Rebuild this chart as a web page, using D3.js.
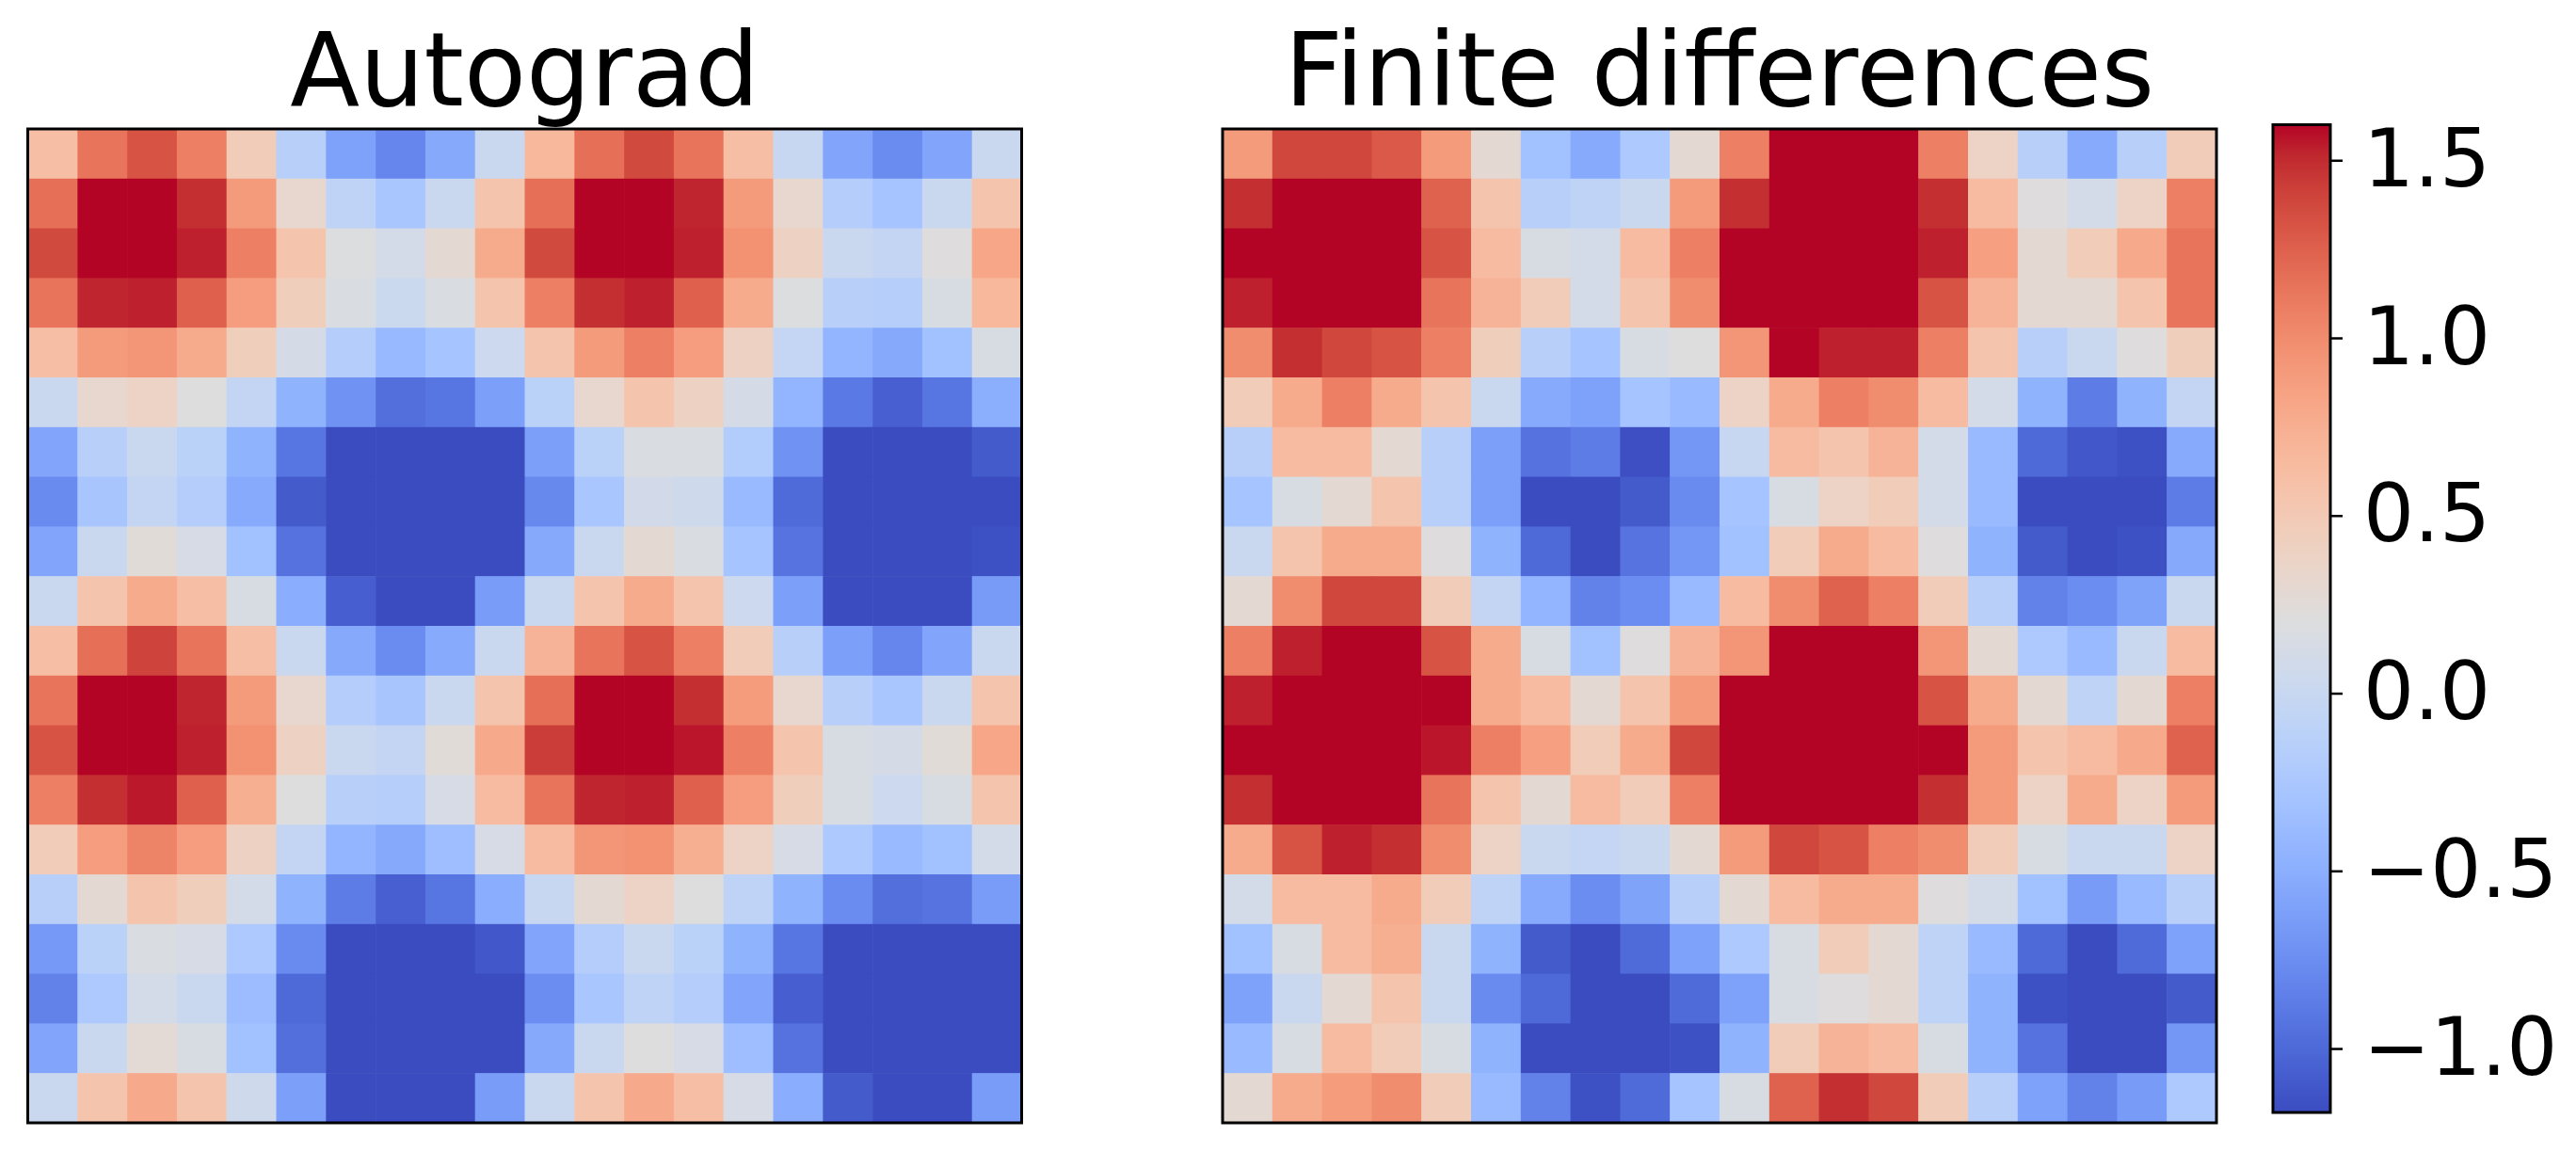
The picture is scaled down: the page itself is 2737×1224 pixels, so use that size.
<!DOCTYPE html>
<html>
<head>
<meta charset="utf-8">
<script src="https://cdn.jsdelivr.net/npm/d3@7"></script>
<style>
  body { margin: 0; background: #fff; }
  text { font-family: "DejaVu Sans", sans-serif; fill: #000; }
</style>
</head>
<body>
<div id="chart"></div>
<script>
// panel titles
var panelTitles = ["Autograd", "Finite differences"];

// gradient (row 0 = top)
var autograd = [
  [0.61, 1.14, 1.32, 1.07, 0.47, -0.14, -0.60, -0.80, -0.54, 0.02, 0.67, 1.17, 1.37, 1.14, 0.61, 0.00, -0.57, -0.76, -0.57, 0.02],
  [1.17, 1.75, 1.75, 1.48, 0.90, 0.32, -0.08, -0.26, 0.02, 0.56, 1.17, 1.75, 1.75, 1.52, 0.90, 0.32, -0.17, -0.29, 0.02, 0.56],
  [1.37, 1.80, 1.80, 1.53, 1.07, 0.56, 0.20, 0.10, 0.29, 0.78, 1.37, 1.80, 1.80, 1.53, 0.96, 0.40, 0.02, -0.04, 0.22, 0.82],
  [1.14, 1.52, 1.53, 1.25, 0.88, 0.45, 0.17, 0.03, 0.17, 0.56, 1.07, 1.48, 1.53, 1.25, 0.78, 0.20, -0.14, -0.16, 0.15, 0.67],
  [0.61, 0.90, 0.93, 0.78, 0.45, 0.11, -0.17, -0.40, -0.29, 0.04, 0.56, 0.90, 1.07, 0.88, 0.40, -0.03, -0.44, -0.54, -0.32, 0.15],
  [0.02, 0.32, 0.38, 0.21, -0.04, -0.46, -0.72, -0.96, -0.91, -0.62, -0.12, 0.32, 0.56, 0.40, 0.11, -0.44, -0.89, -1.06, -0.91, -0.50],
  [-0.57, -0.14, 0.02, -0.12, -0.46, -0.91, -1.30, -1.30, -1.30, -1.30, -0.62, -0.12, 0.17, 0.17, -0.19, -0.72, -1.30, -1.30, -1.30, -1.09],
  [-0.77, -0.27, -0.04, -0.17, -0.53, -1.09, -1.35, -1.35, -1.35, -1.30, -0.79, -0.26, 0.09, 0.06, -0.39, -0.99, -1.35, -1.35, -1.35, -1.30],
  [-0.57, 0.02, 0.25, 0.13, -0.32, -0.94, -1.35, -1.35, -1.35, -1.30, -0.54, 0.02, 0.29, 0.17, -0.29, -0.93, -1.30, -1.35, -1.30, -1.15],
  [0.02, 0.56, 0.78, 0.61, 0.15, -0.51, -1.07, -1.20, -1.20, -0.64, 0.02, 0.56, 0.78, 0.56, 0.04, -0.62, -1.25, -1.25, -1.25, -0.65],
  [0.61, 1.17, 1.40, 1.14, 0.61, 0.02, -0.54, -0.76, -0.53, 0.02, 0.71, 1.14, 1.32, 1.07, 0.47, -0.14, -0.62, -0.80, -0.57, 0.02],
  [1.14, 1.75, 1.75, 1.52, 0.90, 0.32, -0.17, -0.27, 0.02, 0.56, 1.17, 1.75, 1.75, 1.48, 0.89, 0.32, -0.14, -0.26, 0.02, 0.56],
  [1.32, 1.80, 1.80, 1.53, 0.96, 0.40, 0.02, -0.04, 0.25, 0.79, 1.43, 1.80, 1.80, 1.56, 1.07, 0.56, 0.15, 0.11, 0.25, 0.82],
  [1.07, 1.48, 1.55, 1.25, 0.75, 0.21, -0.14, -0.16, 0.13, 0.64, 1.14, 1.52, 1.53, 1.25, 0.88, 0.45, 0.15, 0.04, 0.15, 0.56],
  [0.47, 0.88, 1.05, 0.88, 0.40, -0.04, -0.44, -0.54, -0.35, 0.13, 0.64, 0.93, 0.96, 0.75, 0.38, 0.13, -0.23, -0.39, -0.32, 0.10],
  [-0.14, 0.29, 0.56, 0.45, 0.10, -0.46, -0.87, -1.06, -0.91, -0.51, 0.00, 0.29, 0.38, 0.21, -0.08, -0.46, -0.76, -0.96, -0.93, -0.64],
  [-0.67, -0.12, 0.17, 0.13, -0.23, -0.77, -1.30, -1.30, -1.30, -1.11, -0.57, -0.17, 0.02, -0.12, -0.46, -0.91, -1.30, -1.30, -1.30, -1.30],
  [-0.83, -0.23, 0.10, 0.02, -0.37, -1.00, -1.35, -1.35, -1.35, -1.30, -0.75, -0.26, -0.08, -0.17, -0.57, -1.07, -1.35, -1.35, -1.35, -1.35],
  [-0.57, 0.02, 0.27, 0.15, -0.32, -0.96, -1.35, -1.35, -1.35, -1.30, -0.54, 0.02, 0.21, 0.13, -0.35, -0.94, -1.35, -1.35, -1.35, -1.30],
  [0.02, 0.56, 0.79, 0.56, 0.06, -0.62, -1.20, -1.20, -1.20, -0.64, 0.02, 0.56, 0.79, 0.61, 0.13, -0.51, -1.09, -1.25, -1.25, -0.64]
];

// gradient (row 0 = top)
var finiteDiff = [
  [0.90, 1.38, 1.38, 1.29, 0.90, 0.29, -0.32, -0.53, -0.23, 0.29, 1.07, 1.75, 1.75, 1.75, 1.07, 0.38, -0.14, -0.53, -0.14, 0.47],
  [1.48, 1.75, 1.75, 1.75, 1.24, 0.56, -0.14, -0.08, 0.02, 0.90, 1.48, 1.75, 1.75, 1.75, 1.48, 0.64, 0.22, 0.10, 0.38, 1.07],
  [1.75, 1.75, 1.75, 1.75, 1.32, 0.64, 0.15, 0.10, 0.64, 1.07, 1.75, 1.80, 1.80, 1.75, 1.53, 0.86, 0.29, 0.47, 0.79, 1.14],
  [1.53, 1.75, 1.80, 1.75, 1.14, 0.71, 0.47, 0.10, 0.56, 0.99, 1.75, 1.80, 1.80, 1.75, 1.32, 0.71, 0.29, 0.29, 0.56, 1.14],
  [0.99, 1.48, 1.38, 1.32, 1.07, 0.45, -0.14, -0.29, 0.15, 0.21, 0.93, 1.70, 1.53, 1.53, 1.07, 0.56, -0.14, 0.02, 0.22, 0.45],
  [0.47, 0.78, 1.07, 0.78, 0.56, 0.02, -0.53, -0.60, -0.29, -0.39, 0.38, 0.78, 1.07, 0.99, 0.64, 0.10, -0.46, -0.87, -0.46, -0.04],
  [-0.14, 0.64, 0.64, 0.29, -0.14, -0.62, -0.94, -0.87, -1.16, -0.68, 0.00, 0.64, 0.56, 0.71, 0.10, -0.39, -1.00, -1.11, -1.15, -0.53],
  [-0.29, 0.15, 0.29, 0.56, -0.14, -0.62, -1.30, -1.30, -1.09, -0.77, -0.29, 0.15, 0.38, 0.47, 0.10, -0.39, -1.30, -1.30, -1.30, -0.87],
  [0.02, 0.56, 0.78, 0.78, 0.22, -0.46, -1.00, -1.30, -0.93, -0.68, -0.32, 0.47, 0.78, 0.64, 0.22, -0.46, -1.09, -1.30, -1.15, -0.54],
  [0.29, 0.99, 1.38, 1.38, 0.47, -0.04, -0.44, -0.83, -0.75, -0.39, 0.64, 0.99, 1.24, 1.07, 0.47, -0.14, -0.83, -0.75, -0.59, 0.02],
  [1.07, 1.53, 1.75, 1.75, 1.32, 0.78, 0.15, -0.32, 0.22, 0.71, 0.93, 1.75, 1.75, 1.75, 0.93, 0.29, -0.23, -0.39, 0.02, 0.64],
  [1.53, 1.75, 1.80, 1.80, 1.75, 0.78, 0.64, 0.29, 0.56, 0.90, 1.75, 1.80, 1.80, 1.75, 1.32, 0.78, 0.29, -0.08, 0.29, 1.07],
  [1.75, 1.80, 1.80, 1.75, 1.56, 1.07, 0.86, 0.47, 0.78, 1.38, 1.75, 1.80, 1.80, 1.80, 1.75, 0.90, 0.56, 0.64, 0.79, 1.24],
  [1.48, 1.75, 1.80, 1.75, 1.14, 0.56, 0.29, 0.64, 0.47, 1.07, 1.75, 1.80, 1.80, 1.75, 1.48, 0.90, 0.38, 0.78, 0.38, 0.90],
  [0.78, 1.32, 1.53, 1.48, 0.99, 0.38, 0.02, -0.03, 0.02, 0.29, 0.90, 1.38, 1.32, 1.07, 0.99, 0.47, 0.15, 0.02, 0.02, 0.38],
  [0.10, 0.64, 0.64, 0.78, 0.47, -0.08, -0.53, -0.75, -0.59, -0.14, 0.29, 0.64, 0.78, 0.78, 0.22, 0.10, -0.32, -0.65, -0.39, -0.14],
  [-0.32, 0.15, 0.64, 0.75, 0.02, -0.46, -1.09, -1.30, -0.99, -0.60, -0.23, 0.15, 0.47, 0.29, -0.08, -0.39, -1.00, -1.30, -0.99, -0.60],
  [-0.60, 0.02, 0.29, 0.56, 0.02, -0.77, -1.00, -1.30, -1.30, -0.99, -0.60, 0.15, 0.22, 0.29, -0.08, -0.46, -1.15, -1.30, -1.30, -1.09],
  [-0.39, 0.15, 0.64, 0.47, 0.15, -0.46, -1.30, -1.30, -1.30, -1.15, -0.46, 0.47, 0.71, 0.64, 0.15, -0.46, -0.94, -1.30, -1.30, -0.68],
  [0.29, 0.78, 0.89, 0.99, 0.47, -0.39, -0.83, -1.15, -0.99, -0.29, 0.15, 1.24, 1.48, 1.38, 0.47, -0.14, -0.60, -0.83, -0.65, -0.23]
];

// colour limits and colorbar ticks
var vmin = -1.18, vmax = 1.60;
var colorTicks = [-1.0, -0.5, 0.0, 0.5, 1.0, 1.5];

// matplotlib "coolwarm" (Moreland) stops
var coolwarm = [
  "#3b4cc0", "#445acc", "#4d68d7", "#5775e1", "#6282ea", "#6c8ef1", "#779af7", "#82a5fb",
  "#8db0fe", "#98b9ff", "#a3c2ff", "#aec9fd", "#b8d0f9", "#c2d5f4", "#ccd9ee", "#d5dbe6",
  "#dddddd", "#e5d8d1", "#ecd3c5", "#f1ccb9", "#f5c4ad", "#f7bba0", "#f7b194", "#f7a687",
  "#f49a7b", "#f18d6f", "#ec7f63", "#e57058", "#de604d", "#d55042", "#cb3e38", "#c0282f",
  "#b40426"
];

var width = 2737, height = 1224;

var color = d3.scaleLinear()
  .domain(coolwarm.map(function (c, i) { return vmin + (vmax - vmin) * i / (coolwarm.length - 1); }))
  .range(coolwarm)
  .interpolate(d3.interpolateRgb)
  .clamp(true);

var svg = d3.select("#chart")
  .append("svg")
    .attr("width", width)
    .attr("height", height);

// panel geometry
var panelTop = 137, panelSize = 1056;
var panelLeft = [29.5, 1299];

var cellScale = d3.scaleBand()
  .domain(d3.range(20))
  .range([0, panelSize]);

[autograd, finiteDiff].forEach(function (grid, p) {
  var g = svg.append("g")
    .attr("transform", "translate(" + panelLeft[p] + "," + panelTop + ")");

  var cells = [];
  grid.forEach(function (row, r) {
    row.forEach(function (v, c) { cells.push({r: r, c: c, v: v}); });
  });

  g.selectAll("rect.cell")
    .data(cells)
    .enter()
    .append("rect")
      .attr("class", "cell")
      .attr("x", function (d) { return cellScale(d.c); })
      .attr("y", function (d) { return cellScale(d.r); })
      .attr("width", cellScale.bandwidth() + 0.6)
      .attr("height", cellScale.bandwidth() + 0.6)
      .style("fill", function (d) { return color(d.v); });

  // frame
  g.append("rect")
    .attr("width", panelSize)
    .attr("height", panelSize)
    .style("fill", "none")
    .style("stroke", "#000")
    .style("stroke-width", 3);

  // title
  g.append("text")
    .attr("x", panelSize / 2)
    .attr("y", 112 - panelTop)
    .attr("text-anchor", "middle")
    .style("font-size", "108px")
    .text(panelTitles[p]);
});

// colorbar
var cbLeft = 2415, cbWidth = 61, cbTop = 132.5, cbBottom = 1182;

var defs = svg.append("defs");
var grad = defs.append("linearGradient")
  .attr("id", "cbgrad")
  .attr("x1", 0).attr("y1", 1)
  .attr("x2", 0).attr("y2", 0);
grad.selectAll("stop")
  .data(coolwarm)
  .enter()
  .append("stop")
    .attr("offset", function (d, i) { return i / (coolwarm.length - 1); })
    .attr("stop-color", function (d) { return d; });

svg.append("rect")
  .attr("x", cbLeft)
  .attr("y", cbTop)
  .attr("width", cbWidth)
  .attr("height", cbBottom - cbTop)
  .style("fill", "url(#cbgrad)")
  .style("stroke", "#000")
  .style("stroke-width", 3);

var cbScale = d3.scaleLinear()
  .domain([vmin, vmax])
  .range([cbBottom, cbTop]);

var cbAxis = svg.append("g")
  .attr("transform", "translate(" + (cbLeft + cbWidth) + ",0)")
  .call(d3.axisRight(cbScale)
    .tickValues(colorTicks)
    .tickSize(13)
    .tickPadding(22)
    .tickFormat(d3.format(".1f")));

cbAxis.select(".domain").remove();
cbAxis.selectAll(".tick line")
  .style("stroke", "#000")
  .style("stroke-width", 2.5);
cbAxis.selectAll(".tick text")
  .style("font-family", "DejaVu Sans, sans-serif")
  .style("font-size", "85px")
  .style("fill", "#000");
</script>
</body>
</html>
